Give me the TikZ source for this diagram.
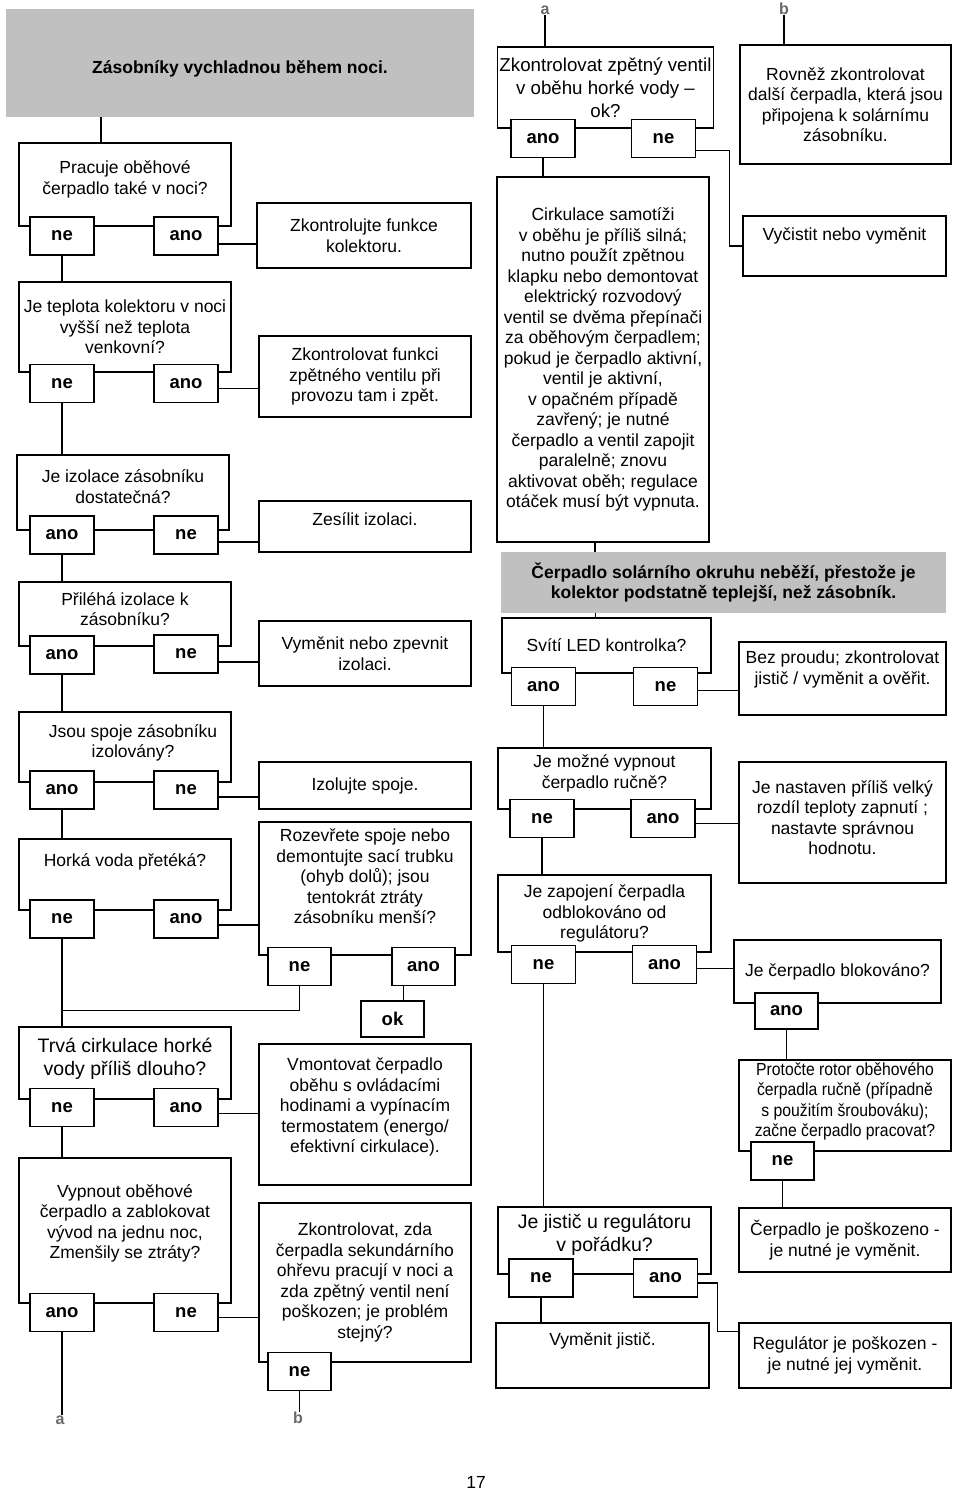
\documentclass[tikz,border=0pt]{standalone}
\usepackage{fontspec}
\setmainfont{Liberation Sans}
\newfontfamily\narrowsans[FakeStretch=0.9]{Liberation Sans}
\usetikzlibrary{positioning}
\definecolor{headgray}{RGB}{192,192,192}
\definecolor{taggray}{RGB}{105,105,105}
\newcommand{\textsz}{\fontsize{17.5}{20.5}\selectfont}
\newcommand{\bigsz}{\fontsize{19.5}{23}\selectfont}

\begin{document}
\begin{tikzpicture}[x=1pt,y=-1pt]
    % troubleshooting chart, two columns
    \tikzset{box/.style = {shape=rectangle,draw,fill=white,line width=1.3pt,minimum width=212pt,align=center,inner sep=2pt,font=\textsz}}
    \tikzset{answer/.style = {shape=rectangle,draw,fill=white,line width=1.3pt,minimum width=64pt,minimum height=38pt,inner sep=1pt,font=\bfseries\fontsize{18.5}{20}\selectfont}}
    \tikzset{heading/.style = {shape=rectangle,fill=headgray,align=center,inner sep=2pt,font=\bfseries\textsz}}
    \tikzset{tag/.style = {text=taggray,inner sep=0pt,font=\bfseries\fontsize{16}{16}\selectfont}}
    \tikzset{link/.style = {line width=1.3pt}}

    \useasboundingbox (0,0) rectangle (960,1493);

    % storage cools down at night
    \node[heading,minimum width=468pt,minimum height=108pt,text height=25pt] (night) at (240,63) {Zásobníky vychladnou během noci.};

    \node[box,minimum height=83pt,text depth=14pt] (q1) at (125,184.5) {Pracuje oběhové\\čerpadlo také v noci?};
    \node[answer] (q1ne)  at (62,236)  {ne};
    \node[answer] (q1ano) at (186,236) {ano};
    \node[box,minimum width=214pt,minimum height=65pt] (a1) at (364,235.5) {Zkontrolujte funkce\\kolektoru.};

    \node[box,minimum height=90pt] (q2) at (125,327) {Je teplota kolektoru v noci\\vyšší než teplota\\venkovní?};
    \node[answer] (q2ne)  at (62,383.5)  {ne};
    \node[answer] (q2ano) at (186,383.5) {ano};
    \node[box,minimum height=81pt] (a2) at (365,376.5) {Zkontrolovat funkci\\zpětného ventilu při\\provozu tam i zpět.};

    \node[box,minimum height=75pt,text depth=12pt] (q3) at (123,492.5) {Je izolace zásobníku\\dostatečná?};
    \node[answer] (q3ano) at (62,535)  {ano};
    \node[answer] (q3ne)  at (186,535) {ne};
    \node[box,minimum height=51pt,text depth=14pt] (a3) at (365,526.5) {Zesílit izolaci.};

    \node[box,minimum height=64pt,text depth=10pt] (q4) at (125,614) {Přiléhá izolace k\\zásobníku?};
    \node[answer] (q4ano) at (62,655)  {ano};
    \node[answer] (q4ne)  at (186,654) {ne};
    \node[box,minimum height=65pt] (a4) at (365,653.5) {Vyměnit nebo zpevnit\\izolaci.};

    \node[box,minimum height=70pt,text depth=12pt] (q5) at (125,747) {\hspace*{16pt}Jsou spoje zásobníku\\\hspace*{16pt}izolovány?};
    \node[answer] (q5ano) at (62,790)  {ano};
    \node[answer] (q5ne)  at (186,790) {ne};
    \node[box,minimum height=47pt] (a5) at (365,785.5) {Izolujte spoje.};

    \node[box,minimum height=71pt,text depth=28pt] (q6) at (125,874.5) {Horká voda přetéká?};
    \node[answer] (q6ne)  at (62,919)  {ne};
    \node[answer] (q6ano) at (186,919) {ano};
    \node[box,minimum height=133pt,text depth=24pt] (q7) at (365,888.5) {Rozevřete spoje nebo\\demontujte sací trubku\\(ohyb dolů); jsou\\tentokrát ztráty\\zásobníku menší?};
    \node[answer,minimum width=63pt] (q7ne)  at (299.5,966.5) {ne};
    \node[answer,minimum width=63pt] (q7ano) at (423.5,966.5) {ano};
    \node[answer,minimum width=63pt,minimum height=36pt] (ok) at (392.5,1019) {ok};

    \node[box,minimum height=72pt,text depth=12pt,font=\bigsz] (q8) at (125,1063) {Trvá cirkulace horké\\vody příliš dlouho?};
    \node[answer] (q8ne)  at (62,1107.5)  {ne};
    \node[answer] (q8ano) at (186,1107.5) {ano};
    \node[box,minimum height=141pt,text depth=18pt] (a7) at (365,1114.5) {Vmontovat čerpadlo\\oběhu s ovládacími\\hodinami a vypínacím\\termostatem (energo/\\efektivní cirkulace).};

    \node[box,minimum height=145pt,text depth=18pt] (q9) at (125,1230.5) {Vypnout oběhové\\čerpadlo a zablokovat\\vývod na jednu noc,\\Zmenšily se ztráty?};
    \node[answer] (q9ano) at (62,1312.5)  {ano};
    \node[answer] (q9ne)  at (186,1312.5) {ne};
    \node[box,minimum height=159pt] (q10) at (365,1282.5) {Zkontrolovat, zda\\čerpadla sekundárního\\ohřevu pracují v noci a\\zda zpětný ventil není\\poškozen; je problém\\stejný?};
    \node[answer,minimum width=63pt] (q10ne) at (299.5,1371.5) {ne};

    \node[tag] (contA) at (60,1420) {a};
    \node[tag] (contB) at (298,1418) {b};

    % solar pump does not run
    \node[tag] (fromA) at (545,10) {a};
    \node[tag] (fromB) at (784,9)  {b};

    \node[box,minimum width=211pt,minimum height=81pt,font=\fontsize{18.7}{23}\selectfont] (q11) at (605.5,87.5) {Zkontrolovat zpětný ventil\\v oběhu horké vody –\\ok?};
    \node[answer] (q11ano) at (543,138.5)   {ano};
    \node[answer] (q11ne)  at (663.5,138.5) {ne};
    \node[box,minimum width=211pt,minimum height=119pt] (rov) at (845.5,104.5) {Rovněž zkontrolovat\\další čerpadla, která jsou\\připojena k solárnímu\\zásobníku.};
    \node[box,minimum width=203pt,minimum height=60pt,text depth=23pt] (vyc) at (844.5,246) {Vyčistit nebo vyměnit};

    \node[box,minimum height=365pt] (cir) at (603,359.5) {Cirkulace samotíži\\v oběhu je příliš silná;\\nutno použít zpětnou\\klapku nebo demontovat\\elektrický rozvodový\\ventil se dvěma přepínači\\za oběhovým čerpadlem;\\pokud je čerpadlo aktivní,\\ventil je aktivní,\\v opačném případě\\zavřený; je nutné\\čerpadlo a ventil zapojit\\paralelně; znovu\\aktivovat oběh; regulace\\otáček musí být vypnuta.};

    \node[heading,minimum width=445pt,minimum height=61pt] (pump) at (723.5,582.5) {Čerpadlo solárního okruhu neběží, přestože je\\kolektor podstatně teplejší, než zásobník.};

    \node[box,minimum width=209pt,minimum height=55pt] (q12) at (606.5,645.5) {Svítí LED kontrolka?};
    \node[answer] (q12ano) at (543.5,686.5) {ano};
    \node[answer] (q12ne)  at (665.5,686.5) {ne};
    \node[box,minimum width=207pt,minimum height=73pt,text depth=22pt] (bez) at (842.5,678.5) {Bez proudu; zkontrolovat\\jistič / vyměnit a ověřit.};

    \node[box,minimum width=213pt,minimum height=61pt,text depth=14pt] (q13) at (604.5,778.5) {Je možné vypnout\\čerpadlo ručně?};
    \node[answer] (q13ne)  at (542,818.5) {ne};
    \node[answer] (q13ano) at (663,818.5) {ano};
    \node[box,minimum width=207pt,minimum height=121pt,text depth=10pt] (nas) at (842.5,822.5) {Je nastaven příliš velký\\rozdíl teploty zapnutí ;\\nastavte správnou\\hodnotu.};

    \node[box,minimum width=213pt,minimum height=77pt] (q14) at (604.5,913.5) {Je zapojení čerpadla\\odblokováno od\\regulátoru?};
    \node[answer] (q14ne)  at (543.5,964.5) {ne};
    \node[answer] (q14ano) at (664.5,964.5) {ano};
    \node[box,minimum width=207pt,minimum height=63pt] (blk) at (837.5,971.5) {Je čerpadlo blokováno?};
    \node[answer,minimum width=63pt,minimum height=36pt] (blkano) at (786.5,1011) {ano};

    \node[box,minimum height=91pt,text depth=12pt,font=\narrowsans\textsz] (q15) at (845,1105.5) {Protočte rotor oběhového\\čerpadla ručně (případně\\s použitím šroubováku);\\začne čerpadlo pracovat?};
    \node[answer,minimum width=63pt] (q15ne) at (782.5,1161) {ne};
    \node[box,minimum height=64pt] (pos) at (845,1240) {Čerpadlo je poškozeno -\\je nutné je vyměnit.};

    \node[box,minimum width=213pt,minimum height=67pt,text depth=16pt,font=\bigsz] (q16) at (604.5,1240.5) {Je jistič u regulátoru\\v pořádku?};
    \node[answer] (q16ne)  at (541,1278)   {ne};
    \node[answer] (q16ano) at (665.5,1278) {ano};
    \node[box,minimum width=213pt,minimum height=65pt,text depth=32pt] (vym) at (602.5,1355.5) {Vyměnit jistič.};
    \node[box,minimum height=65pt] (reg) at (845,1355.5) {Regulátor je poškozen -\\je nutné jej vyměnit.};

    \node[font=\textsz] (pagenum) at (476,1482) {17};

    % left column links
    \draw[link] ([xshift=-24pt]q1.north) -- ([xshift=-24pt]q1.north |- night.south);
    \draw[link] ([yshift=-8pt]q1ano.east) -- ([yshift=-8pt]q1ano.east -| a1.west);
    \draw[link] (q1ne.south) -- (q1ne.south |- q2.north);
    \draw[link] ([yshift=-5pt]q2ano.east) -- ([yshift=-5pt]q2ano.east -| a2.west);
    \draw[link] (q2ne.south) -- (q2ne.south |- q3.north);
    \draw[link] ([yshift=-7pt]q3ne.east) -- ([yshift=-7pt]q3ne.east -| a3.west);
    \draw[link] (q3ano.south) -- (q3ano.south |- q4.north);
    \draw[link] ([yshift=-8pt]q4ne.east) -- ([yshift=-8pt]q4ne.east -| a4.west);
    \draw[link] (q4ano.south) -- (q4ano.south |- q5.north);
    \draw[link] ([yshift=-7pt]q5ne.east) -- ([yshift=-7pt]q5ne.east -| a5.west);
    \draw[link] (q5ano.south) -- (q5ano.south |- q6.north);
    \draw[link] ([yshift=-6pt]q6ano.east) -- ([yshift=-6pt]q6ano.east -| q7.west);
    \draw[link] (q6ne.south) -- (q6ne.south |- q8.north);
    \draw[link] (q7ne.south) -- ++(0,24) -| (q6ne.south);
    \draw[link] ([xshift=11pt]ok.north) -- ([xshift=11pt]ok.north |- q7ano.south);
    \draw[link] ([yshift=-6pt]q8ano.east) -- ([yshift=-6pt]q8ano.east -| a7.west);
    \draw[link] (q8ne.south) -- (q8ne.south |- q9.north);
    \draw[link] ([yshift=-5pt]q9ne.east) -- ([yshift=-5pt]q9ne.east -| q10.west);
    \draw[link] (q9ano.south) -- (q9ano.south |- contA.north);
    \draw[link] (q10ne.south) -- (q10ne.south |- contB.north);

    % right column links
    \draw[link] (fromA.south) -- (fromA.south |- q11.north);
    \draw[link] (fromB.south) -- (fromB.south |- rov.north);
    \draw[link] ([yshift=-12pt]q11ne.east) -- ++(33,0) |- (vyc.west);
    \draw[link] (q11ano.south) -- (q11ano.south |- cir.north);
    \draw[link] ([xshift=-8pt]cir.south) -- ([xshift=-8pt]cir.south |- pump.north);
    \draw[link] ([xshift=-11pt]q12.north) -- ([xshift=-11pt]q12.north |- pump.south);
    \draw[link] ([yshift=-4pt]q12ne.east) -- ([yshift=-4pt]q12ne.east -| bez.west);
    \draw[link] (q12ano.south) -- (q12ano.south |- q13.north);
    \draw[link] ([yshift=-5pt]q13ano.east) -- ([yshift=-5pt]q13ano.east -| nas.west);
    \draw[link] (q13ne.south) -- (q13ne.south |- q14.north);
    \draw[link] ([yshift=-4pt]q14ano.east) -- ([yshift=-4pt]q14ano.east -| blk.west);
    \draw[link] (q14ne.south) -- (q14ne.south |- q16.north);
    \draw[link] (blkano.south) -- (blkano.south |- q15.north);
    \draw[link] (q15ne.south) -- (q15ne.south |- pos.north);
    \draw[link] (q16ne.south) -- (q16ne.south |- vym.north);
    \draw[link] ([yshift=-5pt]q16ano.east) -- ++(19,0) |- ([yshift=24pt]reg.west);
\end{tikzpicture}
\end{document}
